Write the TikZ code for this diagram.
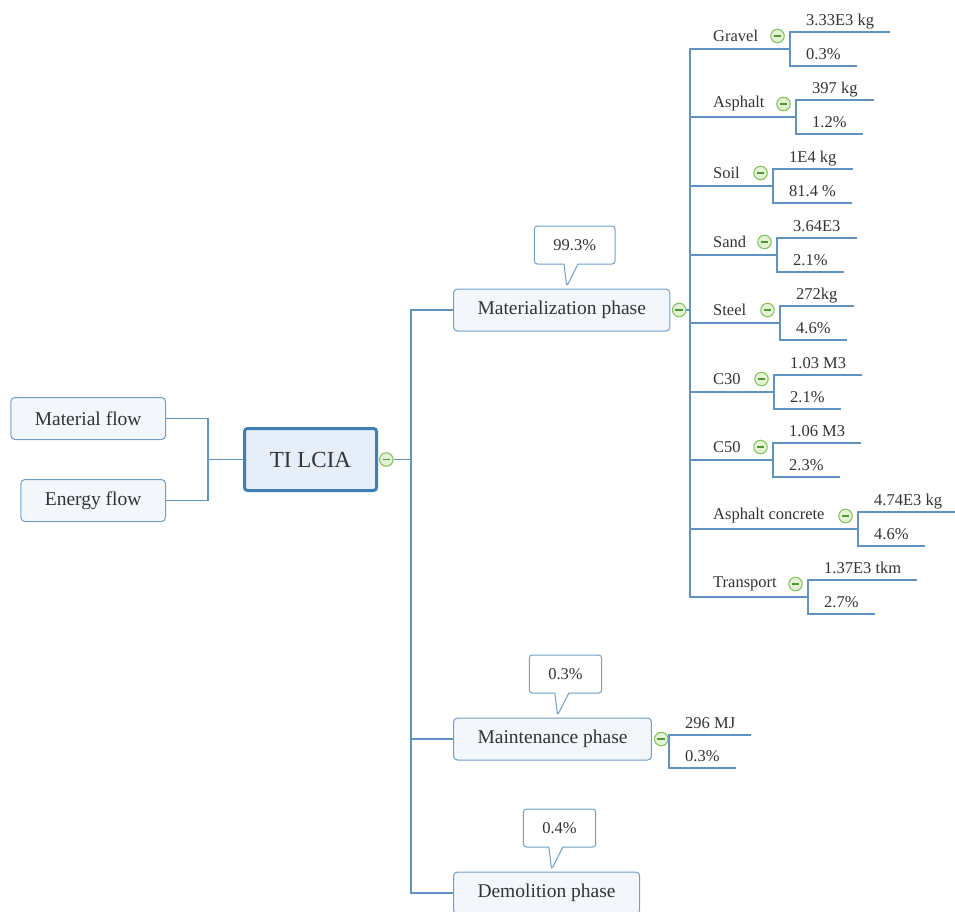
\documentclass[tikz,border=0pt]{standalone}
\usepackage{fontspec}
\setmainfont{Liberation Serif}
\usetikzlibrary{positioning, shapes.callouts}

\definecolor{linkblue}{HTML}{5E93C2}
\definecolor{boxline}{HTML}{6E9FCB}
\definecolor{boxfill}{HTML}{F3F7FC}
\definecolor{coreline}{HTML}{3F7FB3}
\definecolor{corefill}{HTML}{E6EFF9}
\definecolor{knobline}{HTML}{86C45E}
\definecolor{knobfill}{HTML}{E4F3D8}
\definecolor{knobbar}{HTML}{4F9A2E}
\definecolor{ink}{HTML}{333333}

\begin{document}
\begin{tikzpicture}[x=1pt, y=-1pt, text=ink,
    topic/.style={draw=boxline, fill=boxfill, line width=1pt, rounded corners=4pt, minimum height=42pt, inner xsep=24pt, font=\fontsize{19.5}{22}\selectfont},
    core/.style={draw=coreline, fill=corefill, line width=3pt, rounded corners=3pt, minimum width=132pt, minimum height=62pt, font=\fontsize{23}{26}\selectfont},
    share/.style={rectangle callout, draw=boxline, fill=white, line width=1pt, rounded corners=3pt, minimum height=38pt, inner xsep=19pt, callout pointer width=14pt, font=\fontsize{16.5}{19}\selectfont},
    leaf/.style={anchor=west, inner xsep=0pt, font=\fontsize{16.5}{19}\selectfont},
    val/.style={anchor=south west, inner xsep=16pt, inner ysep=0pt, text depth=6.5pt, font=\fontsize{16.5}{19}\selectfont},
    knob/.style={circle, draw=knobline, fill=knobfill, line width=1.1pt, minimum size=13.5pt, inner sep=0pt,
      path picture={\draw[knobbar, line width=1.1pt] ([xshift=-3.8pt]path picture bounding box.center) -- ([xshift=3.8pt]path picture bounding box.center);}},
    wire/.style={draw=linkblue, line width=1.2pt}]
        \useasboundingbox (0,0) rectangle (955,911);

        % centre and inputs
        \node[core] (lcia) at (310.5,459.5) {TI LCIA};
        \node[topic, anchor=east] (mf) at (166,418.5) {Material flow};
        \node[topic, anchor=east] (ef) at (166,500.5) {Energy flow};
        \node[knob, right=1pt of lcia] (lk) {};
        \coordinate (j) at (208,459.5);
        \coordinate (t) at (411,459.5);

        % phases
        \node[topic, anchor=west] (mat) at (453,310) {Materialization phase};
        \node[topic, anchor=west] (mnt) at (453,739) {Maintenance phase};
        \node[topic, anchor=west] (dem) at (453,893) {Demolition phase};
        \node[knob, right=1.5pt of mat] (mk) {};
        \node[knob, right=2pt of mnt] (nk) {};
        \coordinate (m) at (690,310);

        \node[share, above=24pt of mat, xshift=13pt, callout absolute pointer={([xshift=5pt, yshift=2pt]mat.north)}] (matp) {99.3\%};
        \node[share, above=24pt of mnt, xshift=13pt, callout absolute pointer={([xshift=5pt, yshift=2pt]mnt.north)}] (mntp) {0.3\%};
        \node[share, above=24pt of dem, xshift=13pt, callout absolute pointer={([xshift=5pt, yshift=2pt]dem.north)}] (demp) {0.4\%};

        % materials
        \node[leaf] (gr) at (713,36) {Gravel};
        \node[knob] (grk) at (777.5,36) {};
        \coordinate (grb) at (790,49);
        \node[val] (gr1) at (790,32) {3.33E3 kg};
        \node[val] (gr2) at (790,66) {0.3\%};

        \node[leaf] (as) at (713,104) {Asphalt};
        \node[knob] (ask) at (783.5,104) {};
        \coordinate (asb) at (796,117);
        \node[val] (as1) at (796,100) {397 kg};
        \node[val] (as2) at (796,134) {1.2\%};

        \node[leaf] (so) at (713,173) {Soil};
        \node[knob] (sok) at (760.5,173) {};
        \coordinate (sob) at (773,186);
        \node[val] (so1) at (773,169) {1E4 kg};
        \node[val] (so2) at (773,203) {81.4 \%};

        \node[leaf] (sa) at (713,242) {Sand};
        \node[knob] (sak) at (764.5,242) {};
        \coordinate (sab) at (777,255);
        \node[val] (sa1) at (777,238) {3.64E3};
        \node[val] (sa2) at (777,272) {2.1\%};

        \node[leaf] (st) at (713,310) {Steel};
        \node[knob] (stk) at (767.5,310) {};
        \coordinate (stb) at (780,323);
        \node[val] (st1) at (780,306) {272kg};
        \node[val] (st2) at (780,340) {4.6\%};

        \node[leaf] (c3) at (713,379) {C30};
        \node[knob] (c3k) at (761.5,379) {};
        \coordinate (c3b) at (774,392);
        \node[val] (c31) at (774,375) {1.03 M3};
        \node[val] (c32) at (774,409) {2.1\%};

        \node[leaf] (c5) at (713,447) {C50};
        \node[knob] (c5k) at (760.5,447) {};
        \coordinate (c5b) at (773,460);
        \node[val] (c51) at (773,443) {1.06 M3};
        \node[val] (c52) at (773,477) {2.3\%};

        \node[leaf] (ac) at (713,516) {Asphalt concrete};
        \node[knob] (ack) at (845.5,516) {};
        \coordinate (acb) at (858,529);
        \node[val] (ac1) at (858,512) {4.74E3 kg};
        \node[val] (ac2) at (858,546) {4.6\%};

        \node[leaf] (tr) at (713,584) {Transport};
        \node[knob] (trk) at (795.5,584) {};
        \coordinate (trb) at (808,597);
        \node[val] (tr1) at (808,580) {1.37E3 tkm};
        \node[val] (tr2) at (808,614) {2.7\%};

        % maintenance values
        \node[val] (mn1) at (669,735) {296 MJ};
        \node[val] (mn2) at (669,768) {0.3\%};

        % connectors
        \draw[wire] (mf.east) -| (j) |- (ef.east);
        \draw[wire] (j) -- (lcia.west);
        \draw[wire] (lk.east) -- (t);
        \draw[wire] (t) |- (mat.west);
        \draw[wire] (t) |- (mnt.west);
        \draw[wire] (t) |- (dem.west);
        \draw[wire] (mk.east) -- (m);
        \draw[wire] (m) |- (grb);
        \draw[wire] (m) |- (trb);
        \draw[wire] (m) |- (asb);
        \draw[wire] (m) |- (sob);
        \draw[wire] (m) |- (sab);
        \draw[wire] (m) |- (stb);
        \draw[wire] (m) |- (c3b);
        \draw[wire] (m) |- (c5b);
        \draw[wire] (m) |- (acb);
        \draw[wire] (gr1.south east) -- (gr1.south west) -- (gr2.south west) -- (gr2.south east);
        \draw[wire] (as1.south east) -- (as1.south west) -- (as2.south west) -- (as2.south east);
        \draw[wire] (so1.south east) -- (so1.south west) -- (so2.south west) -- (so2.south east);
        \draw[wire] (sa1.south east) -- (sa1.south west) -- (sa2.south west) -- (sa2.south east);
        \draw[wire] (st1.south east) -- (st1.south west) -- (st2.south west) -- (st2.south east);
        \draw[wire] (c31.south east) -- (c31.south west) -- (c32.south west) -- (c32.south east);
        \draw[wire] (c51.south east) -- (c51.south west) -- (c52.south west) -- (c52.south east);
        \draw[wire] (ac1.south east) -- (ac1.south west) -- (ac2.south west) -- (ac2.south east);
        \draw[wire] (tr1.south east) -- (tr1.south west) -- (tr2.south west) -- (tr2.south east);
        \draw[wire] (mn1.south east) -- (mn1.south west) -- (mn2.south west) -- (mn2.south east);
      \end{tikzpicture}
\end{document}
